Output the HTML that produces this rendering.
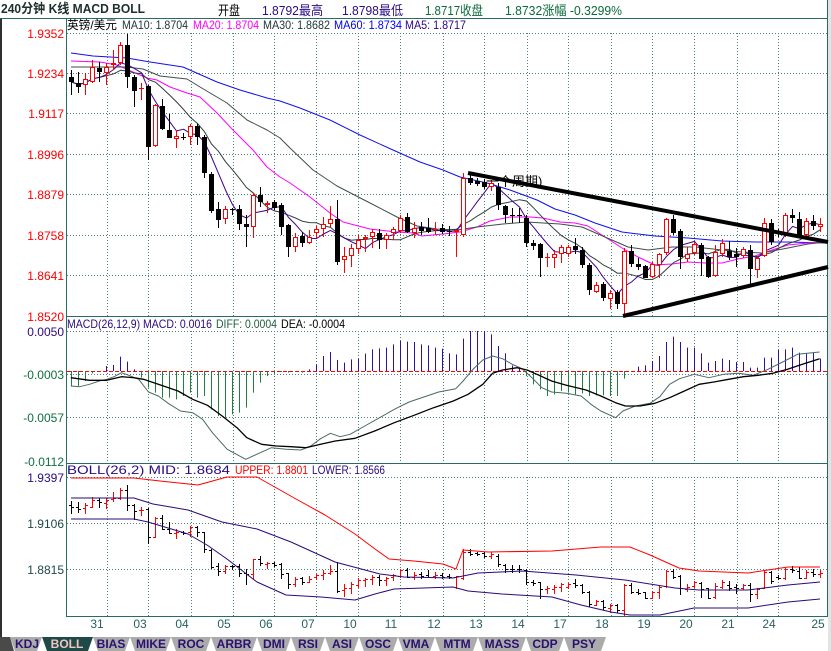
<!DOCTYPE html>
<html><head><meta charset="utf-8">
<style>
html,body{margin:0;padding:0;background:#fff;width:831px;height:651px;overflow:hidden}
svg{display:block}
text{font-family:"Liberation Sans","Noto Sans CJK SC",sans-serif}
</style></head><body>
<svg id="s" xmlns="http://www.w3.org/2000/svg" width="831" height="651" viewBox="0 0 831 651">
<rect width="831" height="651" fill="#fff"/>
<rect x="828" y="0" width="3" height="651" fill="#e4e4e4"/>
<rect x="0" y="18" width="2" height="619" fill="#303030"/>
<g id="plot"></g>
<g id="tabs"></g>

<!-- header -->
<text x="1" y="13" font-family="Liberation Serif, Noto Serif CJK SC, serif" font-weight="bold" font-size="13" fill="#1e2e2e" textLength="144" lengthAdjust="spacingAndGlyphs">240分钟 K线 MACD BOLL</text>
<text x="218" y="15" font-size="13" fill="#000" textLength="22" lengthAdjust="spacingAndGlyphs">开盘</text>
<text x="262" y="15" font-size="13" fill="#2a0a80" textLength="61" lengthAdjust="spacingAndGlyphs">1.8792最高</text>
<text x="342" y="15" font-size="13" fill="#2a0a80" textLength="61" lengthAdjust="spacingAndGlyphs">1.8798最低</text>
<text x="425" y="15" font-size="13" fill="#0a6a3a" textLength="58" lengthAdjust="spacingAndGlyphs">1.8717收盘</text>
<text x="505" y="15" font-size="13" fill="#0a6a3a" textLength="117" lengthAdjust="spacingAndGlyphs">1.8732涨幅 -0.3299%</text>

<!-- main title -->
<text x="67" y="29" font-size="12" fill="#000" textLength="50" lengthAdjust="spacingAndGlyphs">英镑/美元</text>
<text x="122" y="29" font-size="12" fill="#203838" textLength="66" lengthAdjust="spacingAndGlyphs">MA10: 1.8704</text>
<text x="193" y="29" font-size="12" fill="#ff00ff" textLength="66" lengthAdjust="spacingAndGlyphs">MA20: 1.8704</text>
<text x="263" y="29" font-size="12" fill="#203838" textLength="67" lengthAdjust="spacingAndGlyphs">MA30: 1.8682</text>
<text x="334" y="29" font-size="12" fill="#0000ff" textLength="68" lengthAdjust="spacingAndGlyphs">MA60: 1.8734</text>
<text x="405" y="29" font-size="12" fill="#300090" textLength="61" lengthAdjust="spacingAndGlyphs">MA5: 1.8717</text>

<!-- MACD title -->
<text x="67" y="328" font-size="12" fill="#2a0a80" textLength="145" lengthAdjust="spacingAndGlyphs">MACD(26,12,9) MACD: 0.0016</text>
<text x="216" y="328" font-size="12" fill="#206040" textLength="61" lengthAdjust="spacingAndGlyphs">DIFF: 0.0004</text>
<text x="281" y="328" font-size="12" fill="#000" textLength="64" lengthAdjust="spacingAndGlyphs">DEA: -0.0004</text>

<!-- BOLL title -->
<text x="67" y="474" font-size="12" fill="#2a0a80" textLength="163" lengthAdjust="spacingAndGlyphs">BOLL(26,2) MID: 1.8684</text>
<text x="235" y="474" font-size="12" fill="#ff0000" textLength="73" lengthAdjust="spacingAndGlyphs">UPPER: 1.8801</text>
<text x="312" y="474" font-size="12" fill="#2a0a80" textLength="73" lengthAdjust="spacingAndGlyphs">LOWER: 1.8566</text>

<!-- y axis labels -->
<g font-size="12" text-anchor="end" fill="#ff0000">
<text x="64" y="38">1.9352</text>
<text x="64" y="78">1.9234</text>
<text x="64" y="118">1.9117</text>
<text x="64" y="159">1.8996</text>
<text x="64" y="199">1.8879</text>
<text x="64" y="240">1.8758</text>
<text x="64" y="280">1.8641</text>
<text x="64" y="321">1.8520</text>
</g>
<g font-size="12" text-anchor="end">
<text x="64" y="336" fill="#2a0a80">0.0050</text>
<text x="64" y="379" fill="#0f6f3f">-0.0003</text>
<text x="64" y="422" fill="#0f6f3f">-0.0057</text>
<text x="64" y="466" fill="#0f6f3f">-0.0112</text>
<text x="64" y="482" fill="#2a0a80">1.9397</text>
<text x="64" y="528" fill="#204848">1.9106</text>
<text x="64" y="574" fill="#204848">1.8815</text>
</g>

<!-- x axis labels -->
<g font-size="12" text-anchor="middle" fill="#2a6060">
<text x="97" y="628">31</text>
<text x="140" y="628">03</text>
<text x="182" y="628">04</text>
<text x="224" y="628">05</text>
<text x="266" y="628">06</text>
<text x="308" y="628">07</text>
<text x="350" y="628">10</text>
<text x="391" y="628">11</text>
<text x="434" y="628">12</text>
<text x="476" y="628">13</text>
<text x="518" y="628">14</text>
<text x="560" y="628">17</text>
<text x="602" y="628">18</text>
<text x="644" y="628">19</text>
<text x="686" y="628">20</text>
<text x="728" y="628">21</text>
<text x="769" y="628">24</text>
<text x="818" y="628">25</text>
</g>

<text x="486" y="186" font-size="13" fill="#000">一个周期)</text>

<g font-size="12" font-weight="bold" text-anchor="middle" fill="#2a1070">
<text x="27" y="648">KDJ</text>
<text x="67" y="648" fill="#f2c4c4">BOLL</text>
<text x="111" y="648">BIAS</text>
<text x="151" y="648">MIKE</text>
<text x="191" y="648">ROC</text>
<text x="234" y="648">ARBR</text>
<text x="274" y="648">DMI</text>
<text x="308" y="648">RSI</text>
<text x="342" y="648">ASI</text>
<text x="378" y="648">OSC</text>
<text x="416" y="648">VMA</text>
<text x="457" y="648">MTM</text>
<text x="502" y="648">MASS</text>
<text x="545" y="648">CDP</text>
<text x="584" y="648">PSY</text>
</g>
</svg>
<script>
(function(){
const NS='http://www.w3.org/2000/svg';
const G=document.getElementById('plot');
const T=document.getElementById('tabs');
function el(t,a,p){const e=document.createElementNS(NS,t);for(const k in a)e.setAttribute(k,a[k]);(p||G).appendChild(e);return e;}
function L(x1,y1,x2,y2,c,w,da){const a={x1:x1,y1:y1,x2:x2,y2:y2,stroke:c,'stroke-width':w||1};if(da)a['stroke-dasharray']=da;el('line',a);}
function PL(pts,c,w){el('polyline',{points:pts.map(p=>p[0].toFixed(1)+','+p[1].toFixed(1)).join(' '),fill:'none',stroke:c,'stroke-width':w||1,'stroke-linejoin':'round'});}

// tabs
el('polygon',{points:'0,637 10,637 14,651 0,651',fill:'#4a4a4a'},T);
const tabs=[[10,42,0],[42,93,1],[93,130,0],[130,171,0],[171,211,0],[211,257,0],[257,291,0],[291,325,0],[325,359,0],[359,398,0],[398,435,0],[435,478,0],[478,526,0],[526,564,0],[564,606,0]];
tabs.forEach(t=>{el('polygon',{points:t[0]+',637 '+t[1]+',637 '+(t[1]-5)+',651 '+(t[0]+5)+',651',fill:t[2]?'#1f4a48':'#ababab'},T);});

// grid
const GC='#4f7f7f';
const VX=[107,148,191,233,274,316,358,400,443,484,527,568,611,652,694,737,778];
[[33,316,[33,73,113,154,194,235,275]],[331,463,[331,374,417]],[477,616,[477,523,569]]].forEach(function(p){
 VX.forEach(x=>L(x+.5,p[0],x+.5,p[1],GC,1,'1,2'));
 p[2].forEach(y=>L(67,y+.5,827,y+.5,GC,1,'1,2'));
});
L(67,371.5,827,371.5,'#ff0000',1,'4,2');

// frame
const FC='#2a6b63';
L(0,18.5,828,18.5,FC);
L(66.5,18,66.5,617,FC);
L(66,316.5,828,316.5,FC);
L(66,463.5,828,463.5,FC);
L(66,616.5,828,616.5,FC);
L(827.5,0,827.5,617,FC);

// candles
const D=[
['k',70,77,82,95],['k',72,83,87,93],['r',73,79,85,95],['r',60,67,82,83],['k',62,68,72,82],['r',63,67,73,85],['r',50,63,65,70],['r',42,45,63,65],['k',34,45,77,88],['k',75,77,91,107],
['r',83,88,89,100],['k',85,86,147,160],['r',104,105,146,147],['k',99,106,129,130],['k',114,130,138,138],['r',130,136,139,148],['k',133,137,138,140],['r',124,126,137,145],['k',124,126,137,145],['k',135,137,173,178],
['k',172,174,211,213],['k',202,209,220,228],['r',206,209,219,224],['k',208,209,210,215],['k',205,209,224,230],['k',215,224,227,247],['r',193,195,227,238],['k',187,195,202,207],['r',201,203,205,213],['k',200,202,208,210],
['k',203,205,227,235],['k',224,225,247,257],['r',233,237,247,252],['k',232,236,243,247],['r',230,237,243,244],['r',226,229,233,238],['r',217,224,229,237],['r',206,219,224,227],['k',200,219,262,265],['r',247,256,260,273],
['r',244,248,256,267],['r',235,240,249,254],['r',235,237,239,252],['r',229,232,237,248],['k',229,233,240,249],['r',233,235,240,249],['r',227,229,233,240],['r',215,218,231,233],['k',213,217,232,233],['r',222,228,233,238],
['k',222,227,231,235],['k',218,228,232,233],['r',222,229,230,235],['k',224,228,232,234],['k',226,231,232,236],['r',230,230,232,257],['r',173,178,235,237],['k',173,178,183,185],['k',178,181,184,186],['k',179,182,187,189],
['r',180,183,187,191],['k',183,187,205,210],['k',205,206,215,223],['k',208,215,216,223],['k',208,215,216,223],['k',215,218,243,247],['k',240,243,246,250],['k',243,244,258,277],['r',253,257,258,267],['r',250,254,258,268],
['r',245,247,254,263],['r',245,247,254,257],['k',238,246,250,254],['k',247,250,265,268],['k',263,265,290,295],['r',282,285,292,293],['k',282,284,298,301],['r',290,293,299,309],['k',290,292,304,309],['r',248,251,304,315],
['k',245,251,264,267],['k',258,264,267,270],['k',265,266,278,278],['r',262,264,277,278],['r',253,254,265,278],['r',218,219,253,255],['k',215,219,233,235],['k',229,231,257,269],['r',247,254,259,262],['r',242,244,253,255],
['k',243,245,259,276],['k',256,257,277,278],['r',245,252,276,277],['r',239,243,254,257],['k',241,251,257,260],['k',248,254,257,267],['r',247,249,256,258],['k',245,250,269,285],['r',257,258,270,278],['r',218,223,256,257],
['k',219,223,242,245],['k',229,233,234,237],['r',213,215,235,237],['k',209,215,218,223],['k',212,219,235,236],['r',218,221,235,236],['k',215,221,226,230],['r',218,224,227,232]
];
const X=i=>71+7*i;

// MA lines (main)
const MA60=[[71,53],[93,56],[127,58],[150,62],[183,67],[217,82],[240,90],[267,98],[280,101],[300,108],[330,120],[360,135],[393,150],[420,162],[443,170],[460,177],[487,183],[510,190],[537,200],[555,209],[575,215],[595,223],[622,232],[655,236],[688,238],[722,241],[755,242],[788,242],[826,243]];
const MA20=[[71,61],[100,62],[117,65],[133,72],[147,78],[157,80],[170,87],[187,93],[200,97],[217,113],[233,130],[253,150],[267,167],[280,177],[290,183],[310,197],[330,213],[343,222],[370,229],[397,232],[413,233],[422,236],[443,234],[460,232],[477,227],[490,221],[510,217],[530,217],[543,218],[560,222],[575,223],[588,226],[605,237],[622,248],[638,257],[655,265],[672,264],[688,262],[705,263],[722,263],[738,259],[755,256],[772,250],[788,245],[808,243],[826,242]];
const MA30=[[71,67],[100,67],[127,67],[143,69],[160,76],[187,79],[200,87],[227,103],[247,120],[267,130],[280,138],[290,148],[313,170],[337,186],[370,203],[397,217],[417,226],[437,229],[457,230],[477,227],[503,224],[527,222],[543,223],[560,224],[582,227],[605,237],[628,247],[648,250],[672,247],[695,247],[722,250],[742,252],[762,253],[788,248],[808,244],[826,242]];
PL(MA60,'#1010f0',1);
PL(MA20,'#ff00ff',1);
PL(MA30,'#3f4f4a',1);
const closes=D.map(d=>d[0]==='k'?d[3]:d[2]);
function ma(n){const r=[];for(let i=0;i<closes.length;i++){let s=0,c=0;for(let j=Math.max(0,i-n+1);j<=i;j++){s+=closes[j];c++;}r.push([X(i)+.5,s/c]);}return r;}
PL(ma(10),'#2f3f3f',1);
PL(ma(5),'#400090',1);

// main candles + boll bars
const f=y=>484.1+(y-33)*0.465;
D.forEach(function(d,i){
 const c=d[0],wt=d[1],bt=d[2],bb=d[3],wb=d[4];const x=X(i),xc=x+.5;
 if(c==='k'){L(xc,wt,xc,wb,'#000');el('rect',{x:x-2,y:bt,width:5,height:Math.max(bb-bt,1),fill:'#000'});}
 else{
  if(bt>wt)L(xc,wt,xc,bt,'#f00');
  if(wb>bb)L(xc,bb,xc,wb,'#f00');
  if(bb-bt<=1)L(x-2,bt+.5,x+3,bt+.5,'#f00');
  else el('rect',{x:x-1.5,y:bt+.5,width:4,height:bb-bt-1,fill:'#fff',stroke:'#f00','stroke-width':1});
 }
 const col=c==='k'?'#000':'#f00';
 const o=c==='k'?bt:bb, cl=c==='k'?bb:bt;
 const yo=Math.round(f(o))+.5, yc=Math.round(f(cl))+.5;
 L(xc,Math.round(f(wt)),xc,Math.round(f(wb))+1,col);
 L(x-2,yo,xc,yo,col);
 L(xc,yc,x+3,yc,col);
});

// BOLL bands
const UP=[[71,478],[134,478],[160,481],[198,485],[227,477],[257,477],[296,499],[325,515],[355,534],[375,549],[389,559],[414,561],[443,564],[456,569],[463,550],[488,552],[552,551],[601,547],[630,547],[650,555],[679,568],[699,571],[748,573],[768,570],[788,567],[820,567]];
const MID=[[71,498],[134,498],[153,504],[188,510],[222,522],[257,529],[291,542],[335,562],[380,574],[404,577],[453,578],[478,573],[522,571],[576,575],[625,580],[675,588],[699,590],[748,590],[788,585],[820,582]];
const LOW=[[71,519],[134,519],[148,522],[188,534],[207,545],[227,559],[257,582],[286,595],[321,597],[355,600],[375,594],[394,589],[453,587],[468,591],[502,594],[552,597],[581,605],[611,612],[630,615],[660,615],[694,608],[748,608],[788,602],[820,599]];
PL(UP,'#ff0000',1);PL(MID,'#2a0a7a',1);PL(LOW,'#2a0a7a',1);

// MACD histogram
const H=[210,210,195,172,168,150,147,122,137,160,185,215,230,245,245,250,240,230,245,240,280,300,305,295,290,275,230,200,180,172,168,170,168,170,160,145,120,108,132,140,130,128,113,100,97,95,85,75,77,78,85,88,95,98,112,115,68,45,45,45,55,90,112,148,155,180,205,220,240,235,225,230,235,232,240,238,238,240,240,188,168,152,148,135,120,78,62,78,95,95,112,140,135,128,132,138,138,155,155,125,125,102,100,95,110,112,110,128];
H.forEach(function(h,i){const x=X(i)+.5;const y=316+h/3;if(Math.abs(y-371)<1)return;L(x,371,x,y,h<165?'#3010a0':'#1f7f3f');});

// MACD lines
const DIFF=[[22,210],[40,212],[60,205],[80,195],[95,190],[110,182],[125,170],[140,178],[160,190],[180,228],[200,240],[220,262],[245,285],[270,290],[290,310],[310,350],[340,400],[378,430],[400,415],[430,395],[460,400],[490,402],[510,390],[530,368],[550,352],[570,362],[590,355],[620,330],[650,305],[680,280],[710,258],[740,243],[770,228],[805,218],[820,195],[840,160],[860,132],[880,120],[900,128],[920,145],[940,158],[960,185],[980,215],[1000,228],[1030,232],[1060,240],[1080,265],[1100,285],[1130,305],[1145,285],[1170,270],[1200,262],[1220,242],[1240,205],[1260,188],[1290,175],[1320,185],[1350,175],[1380,172],[1410,178],[1440,160],[1470,138],[1500,115],[1520,112],[1545,108]];
const DEA=[[22,185],[60,193],[95,193],[125,182],[150,185],[170,190],[200,205],[240,225],[270,250],[300,268],[330,300],[360,335],[380,365],[410,385],[440,390],[470,392],[500,395],[530,385],[560,375],[600,367],[640,345],[680,320],[720,298],[760,275],[800,255],[830,235],[860,205],[880,172],[900,162],[930,155],[950,162],[970,175],[1000,195],[1030,208],[1070,222],[1100,240],[1130,260],[1150,270],[1180,270],[1210,262],[1240,245],[1270,225],[1300,205],[1330,198],[1360,190],[1390,182],[1420,178],[1450,172],[1480,160],[1510,145],[1545,128]];
const cv=a=>a.map(p=>[60+p[0]/2.034,316+p[1]/3]);
PL(cv(DIFF),'#4a6a62',1);
PL(cv(DEA),'#000',1.3);

// trend lines
L(468,173,828,242,'#000',4);
L(623,316,828,267,'#000',4);
})();
</script>
</body></html>
